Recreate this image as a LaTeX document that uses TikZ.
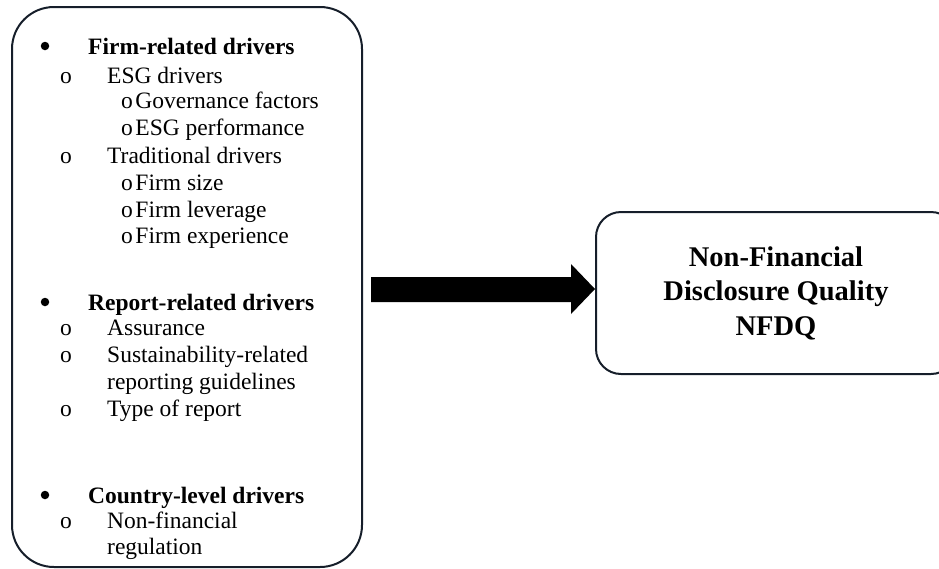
\documentclass[tikz,border=0pt]{standalone}
\usepackage{fontspec}
\setmainfont{Liberation Serif}
\definecolor{boxcol}{RGB}{22,30,42}
\begin{document}
\begin{tikzpicture}[x=1pt,y=-1pt,
  boxline/.style={draw=boxcol, line width=2pt, inner sep=0pt},
  lt/.style={anchor=base west, inner sep=0pt, font=\fontsize{23.5}{27}\selectfont},
  lth/.style={lt, font=\fontsize{23.5}{27}\selectfont\bfseries},
  bul/.style={circle, fill, inner sep=0pt, minimum size=8.5pt},
  sub/.style={anchor=base, inner sep=0pt, font=\fontsize{23.5}{24}\selectfont}]
\useasboundingbox (0,0) rectangle (939,568);

% boxes
\node[boxline, rounded corners=42pt, minimum width=350pt, minimum height=560pt] (drivers) at (187,287) {};
\node[boxline, rounded corners=25pt, minimum width=360pt, minimum height=162pt,
      align=center, font=\fontsize{28.5}{34.5}\selectfont\bfseries] (nfdq) at (776,293)
      {\rule{0pt}{2pt}Non-Financial\\Disclosure Quality\\NFDQ};

% block arrow
\coordinate (atail) at (371,289.5);
\coordinate (atip) at (595,289);
\fill (atail) ++(0,-12.5) -- (571,277) -- (571,264) -- (atip) -- (571,314) -- (571,302) -- (371,302) -- cycle;

% Firm-related
\node[bul] (b1) at (45,46) {};
\node[lth] (t1) at (88,54) {Firm-related drivers};
\node[sub] (s2) at (66,83) {o};
\node[lt] (t2) at (107,83) {ESG drivers};
\node[lt] (t3) at (121,108) {o\kern2.5pt Governance factors};
\node[lt] (t4) at (121,135) {o\kern2.5pt ESG performance};
\node[sub] (s5) at (66,163) {o};
\node[lt] (t5) at (107,163) {Traditional drivers};
\node[lt] (t6) at (121,190) {o\kern2.5pt Firm size};
\node[lt] (t7) at (121,217) {o\kern2.5pt Firm leverage};
\node[lt] (t8) at (121,243) {o\kern2.5pt Firm experience};

% Report-related
\node[bul] (b9) at (45,302) {};
\node[lth] (t9) at (88,310) {Report-related drivers};
\node[sub] (s10) at (66,335) {o};
\node[lt] (t10) at (107,335) {Assurance};
\node[sub] (s11) at (66,362) {o};
\node[lt] (t11) at (107,362) {Sustainability-related};
\node[lt] (t12) at (107,389) {reporting guidelines};
\node[sub] (s13) at (66,416) {o};
\node[lt] (t13) at (107,416) {Type of report};

% Country-level
\node[bul] (b14) at (45,495) {};
\node[lth] (t14) at (88,503) {Country-level drivers};
\node[sub] (s15) at (66,528) {o};
\node[lt] (t15) at (107,528) {Non-financial};
\node[lt] (t16) at (107,554) {regulation};
\end{tikzpicture}
\end{document}
